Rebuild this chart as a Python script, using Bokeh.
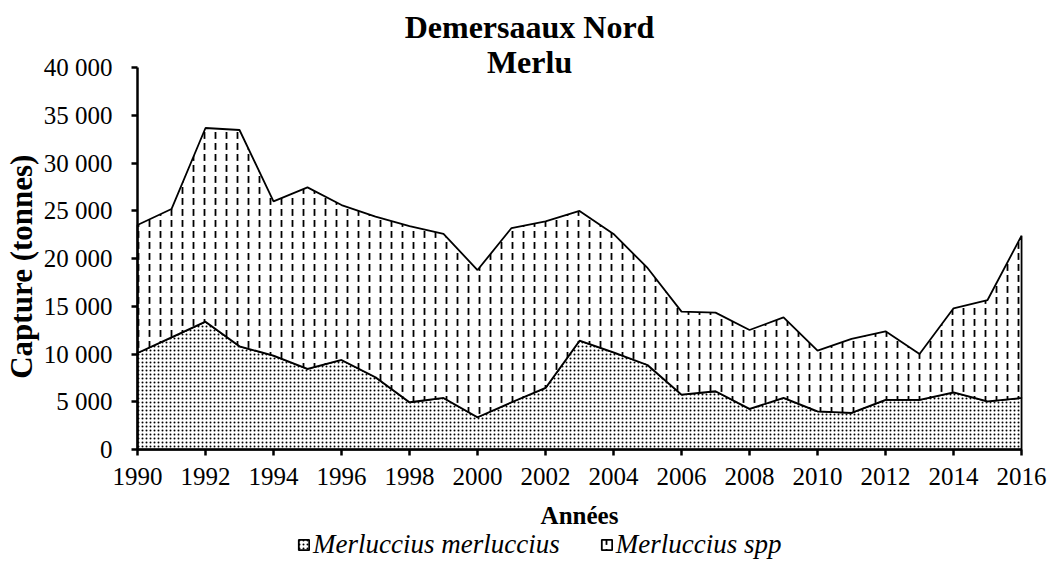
import math
from bokeh.plotting import figure
from bokeh.models import (Range1d, FixedTicker, CustomJSTickFormatter, Legend, LegendItem, Label)
from bokeh.embed import file_html
from bokeh.resources import INLINE

years = list(range(1990, 2017))
merluccius = [10120, 11760, 13400, 10820, 9840, 8450, 9390, 7570, 4960, 5410,
              3390, 4960, 6460, 11410, 10190, 8860, 5760, 6110, 4260, 5410,
              4010, 3840, 5200, 5200, 6000, 5060, 5410]
spp = [13410, 13440, 20290, 22660, 16160, 19020, 16230, 16830, 18460, 17180,
       15420, 18250, 17450, 13590, 12400, 10170, 8690, 8240, 8270, 8440,
       6360, 7750, 7190, 4820, 8800, 10610, 17000]
x_ticks = list(range(1990, 2017, 2))
y_ticks = list(range(0, 40001, 5000))
title_lines = ["Demersaaux Nord", "Merlu"]
series_names = ["Merluccius merluccius", "Merluccius spp"]
x_label = "Années"
y_label = "Capture (tonnes)"

total = [a + b for a, b in zip(merluccius, spp)]
zeros = [0] * len(years)

FONT = "Liberation Serif"
# the frame covers the whole canvas so that axes (fixed in place), titles and legend are not clipped
X_LEFT, X_RIGHT = 1986.03, 2016.91
Y_TOP, Y_BOTTOM = 46000, -11830

p = figure(frame_width=1050, frame_height=552,
           output_backend="svg", toolbar_location=None,
           x_range=Range1d(X_LEFT, X_RIGHT), y_range=Range1d(Y_BOTTOM, Y_TOP),
           min_border_left=2, min_border_right=2, min_border_top=10, min_border_bottom=0)
p.outline_line_color = None
p.grid.visible = False
p.background_fill_color = "white"
p.border_fill_color = "white"

xs = years + years[::-1]
r1 = p.patch(xs, merluccius + zeros[::-1], fill_color="white", line_color="black", line_width=1.8,
             hatch_pattern="dot", hatch_color="black", hatch_scale=4, hatch_weight=1.6)
r2 = p.patch(xs, total + merluccius[::-1], fill_color="white", line_color="black", line_width=1.8,
             hatch_pattern="vertical_dash", hatch_color="black", hatch_scale=11, hatch_weight=1.8)

for ax in (p.xaxis[0], p.yaxis[0]):
    ax.axis_line_width = 2.5
    ax.axis_line_color = "black"
    ax.major_tick_line_width = 2.5
    ax.major_tick_in = 0
    ax.major_tick_out = 6
    ax.minor_tick_line_color = None
    ax.major_label_text_font = FONT
    ax.major_label_text_font_size = "25px"
    ax.major_label_text_color = "black"
    ax.axis_label_text_font = FONT
    ax.axis_label_text_font_style = "bold"
    ax.axis_label_text_font_size = "25px"
    ax.axis_label_text_color = "black"

p.xaxis.fixed_location = y_ticks[0]
p.yaxis.fixed_location = years[0]
p.xaxis.bounds = (years[0], years[-1])
p.yaxis.bounds = (y_ticks[0], y_ticks[-1])
p.xaxis.ticker = FixedTicker(ticks=x_ticks)
p.yaxis.ticker = FixedTicker(ticks=y_ticks)
p.yaxis.formatter = CustomJSTickFormatter(code="return tick.toFixed(0).replace(/\\B(?=(\\d{3})+(?!\\d))/g, '\\u00a0');")
p.xaxis.axis_label = x_label
p.xaxis.major_label_standoff = 12
p.yaxis.major_label_standoff = 19
p.xaxis.axis_label_standoff = 14

# vertical y-axis title
p.add_layout(Label(x=years[0], y=(y_ticks[0] + y_ticks[-1]) / 2, x_offset=-116, y_offset=-8,
                   text=y_label, angle=math.pi / 2, text_align="center", text_baseline="middle",
                   text_font=FONT, text_font_style="bold", text_font_size="31px", text_color="black"))

x_mid = (years[0] + years[-1]) / 2
for i, (txt, off) in enumerate(zip(title_lines, [41, 6])):
    p.add_layout(Label(x=x_mid, y=y_ticks[-1], x_offset=-50, y_offset=off, text=txt,
                       text_align="center", text_baseline="alphabetic", text_font=FONT,
                       text_font_style="bold", text_font_size="32px", text_color="black"))

legend = Legend(items=[LegendItem(label=series_names[0], renderers=[r1]),
                       LegendItem(label=series_names[1], renderers=[r2])],
                orientation="horizontal", location=(295, 2),
                border_line_alpha=0, background_fill_alpha=0,
                label_text_font=FONT, label_text_font_style="italic", label_text_font_size="27px",
                label_text_color="black", label_height=20,
                glyph_width=13, glyph_height=13, spacing=40, padding=0, margin=0,
                label_standoff=3)
p.add_layout(legend, "center")

open("out.html", "w").write(file_html(p, INLINE))
